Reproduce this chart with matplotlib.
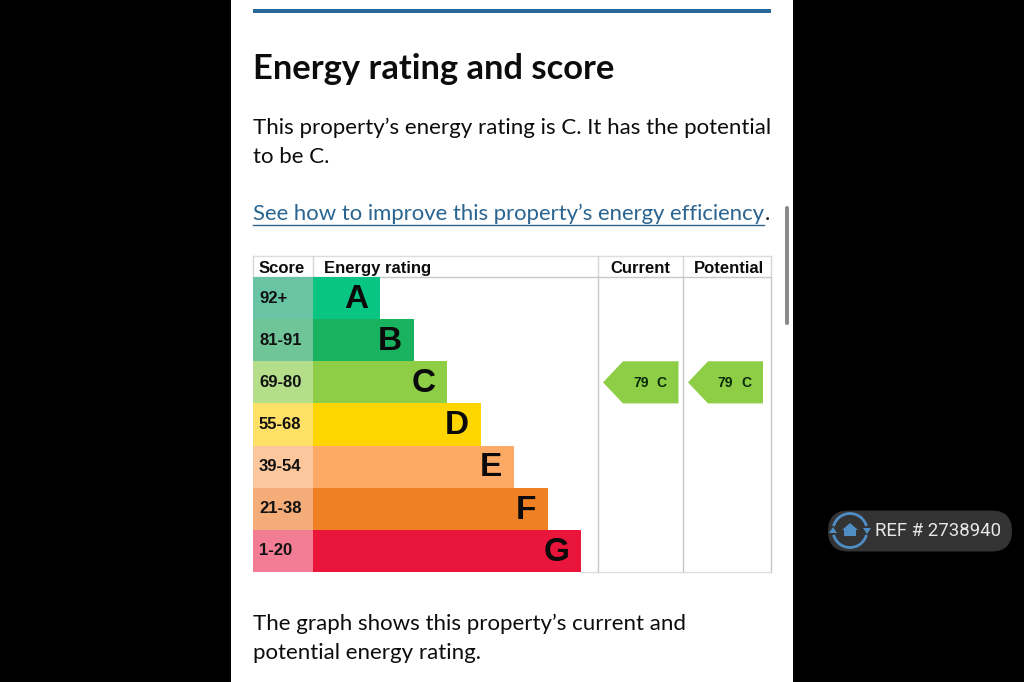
import numpy as np
from matplotlib import pyplot as plt
from matplotlib.patches import Rectangle, FancyBboxPatch, Polygon, Arc

W, H = 1024, 682

ratings = ['A', 'B', 'C', 'D', 'E', 'F', 'G']
score_bands = ['92+', '81-91', '69-80', '55-68', '39-54', '21-38', '1-20']
bar_lengths = [2, 3, 4, 5, 6, 7, 8]
bar_colors = ['#08c584', '#19b25f', '#8dce46', '#ffd500', '#fcaa65', '#ef8023', '#e9153b']
band_colors = ['#69c4a4', '#6fc597', '#b4de8a', '#ffe066', '#fdc79d', '#f4ac78', '#f27c94']
columns = ['Score', 'Energy rating', 'Current', 'Potential']
current_score = 79
potential_score = 79
current_rating = 'C'
potential_rating = 'C'

body_font = ['Lato', 'DejaVu Sans']
table_font = ['Liberation Sans', 'DejaVu Sans']

fig = plt.figure(figsize=(W / 100, H / 100), dpi=100, facecolor='black')

# page layer, pixel coordinates
page = fig.add_axes([0, 0, 1, 1])
page.set_xlim(0, W)
page.set_ylim(H, 0)
page.axis('off')
page.add_patch(Rectangle((231, 0), 562, H, fc='white', ec='none'))
page.add_patch(Rectangle((253, 9), 518, 3.5, fc='#2a6a9b', ec='none'))
page.add_patch(FancyBboxPatch((785, 206), 4, 119, boxstyle='round,pad=0,rounding_size=2',
                              fc='#8a8a8a', ec='none'))

body = dict(family=body_font, fontsize=16, color='#0b0c0c', va='baseline')
page.text(253, 79, 'Energy rating and score', family=body_font, fontsize=24.8,
          fontweight='bold', color='#0b0c0c', va='baseline', ha='left')
page.text(253, 134, 'This property\u2019s energy rating is C. It has the potential', **body)
page.text(253, 163, 'to be C.', **body)
page.text(253, 220, 'See how to improve this property\u2019s energy efficiency',
          family=body_font, fontsize=15.9, color='#2a6490', va='baseline')
page.text(765, 220, '.', **body)
page.plot([253, 764], [224.5, 224.5], color='#2a6490', lw=1)
page.text(253, 630, 'The graph shows this property\u2019s current and', **body)
page.text(253, 659, 'potential energy rating.', **body)

# table header
grid = '#c8c8c8'
page.plot([253, 771], [256, 256], color='#dddddd', lw=1)
page.plot([253, 771], [276.5, 276.5], color=grid, lw=1)
for x in [253, 313, 598, 682.5, 771]:
    page.plot([x, x], [256, 277], color='#d5d5d5', lw=1)
for label, x in zip(columns, [259, 324, 640.5, 729]):
    page.text(x, 273, label, family=table_font, fontsize=12, fontweight='bold', color='#0b0c0c',
              va='baseline', ha='left' if x < 400 else 'center')

# the chart, 1 x unit = one rating step
step = 33.5
x0, x1, y0, y1 = 253, 771, 277, 572
ax = fig.add_axes([x0 / W, 1 - y1 / H, (x1 - x0) / W, (y1 - y0) / H])
ax.set_xlim((x0 - 313) / step, (x1 - 313) / step)
ax.set_ylim(len(ratings) - 0.5, -0.5)
ax.axis('off')
ax.patch.set_alpha(0)

rows = np.arange(len(ratings))
left = (x0 - 313) / step
ax.barh(rows, [-left] * len(rows), left=left, height=1, color=band_colors)
ax.barh(rows, bar_lengths, height=1, color=bar_colors)
for i in rows:
    ax.text(bar_lengths[i] - 0.35, i + 0.03, ratings[i], family=table_font, fontsize=24,
            fontweight='bold', color='#0a0a0a', ha='right', va='center')
    ax.text(left + 0.18, i, score_bands[i], family=table_font, fontsize=12, fontweight='bold',
            color='#111111', ha='left', va='center')

for x in [598, 682.5, 771]:
    xd = (x - 313) / step
    ax.plot([xd, xd], [-0.5, 6.5], color=grid, lw=1, clip_on=False)
ax.plot([bar_lengths[-1], (771 - 313) / step], [6.5, 6.5], color='#dddddd', lw=1, clip_on=False)


def arrow(tip, shoulder, right, score, rating):
    # tag pointing left, sits on the rating row
    row = ratings.index(rating)
    pts = [((tip - 313) / step, row), ((shoulder - 313) / step, row - 0.5),
           ((right - 313) / step, row - 0.5), ((right - 313) / step, row + 0.5),
           ((shoulder - 313) / step, row + 0.5)]
    ax.add_patch(Polygon(pts, closed=True, fc='#8dce46', ec='none'))
    ax.text((right - 37.5 - 313) / step, row + 0.02, str(score), family=table_font, fontsize=10,
            fontweight='bold', color='#0a2a0a', ha='center', va='center')
    ax.text((right - 17 - 313) / step, row + 0.02, rating, family=table_font, fontsize=10,
            fontweight='bold', color='#0a2a0a', ha='center', va='center')


arrow(603, 623, 678.5, current_score, current_rating)
arrow(688, 708, 763, potential_score, potential_rating)

# watermark pill
page.add_patch(FancyBboxPatch((828, 510.5), 184, 41, boxstyle='round,pad=0,rounding_size=20.5',
                              fc='#333333', ec='none'))
blue = '#4f8dc4'
page.add_patch(Arc((850, 530.5), 34, 34, theta1=15, theta2=165, color=blue, lw=2))
page.add_patch(Arc((850, 530.5), 34, 34, theta1=195, theta2=345, color=blue, lw=2))
page.add_patch(Polygon([(833, 527), (837, 533), (829, 533)], fc=blue, ec='none'))
page.add_patch(Polygon([(867, 534), (863, 528), (871, 528)], fc=blue, ec='none'))
page.add_patch(Polygon([(842, 530), (850, 523), (858, 530), (856, 530), (856, 536), (844, 536), (844, 530)],
                       fc=blue, ec='none'))
page.text(875, 530.5, 'REF # 2738940', family=['Roboto', 'DejaVu Sans'], fontsize=13.4, color='#e6e6e6',
          va='center', ha='left')

fig.savefig('out.png', dpi=100, facecolor='black')
